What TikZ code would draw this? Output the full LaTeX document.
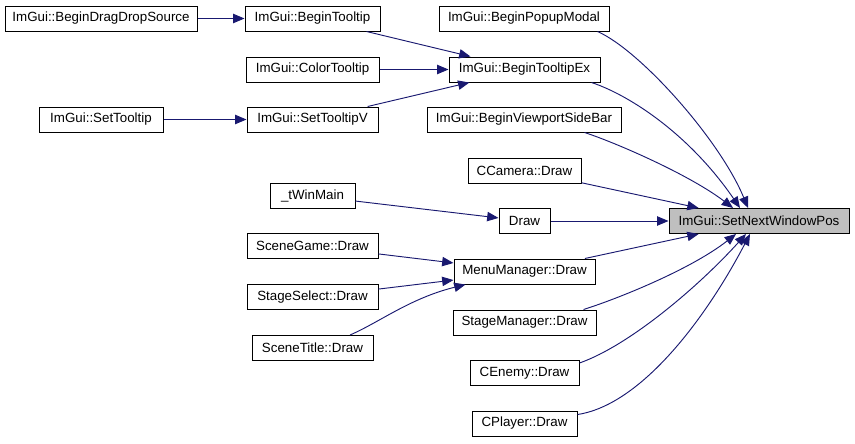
\documentclass[tikz,border=0pt]{standalone}
\usepackage{fontspec}
\setmainfont{Liberation Sans}
\usetikzlibrary{calc}
\usetikzlibrary{arrows.meta}

\definecolor{edgeblue}{RGB}{25,25,112}
\definecolor{focusgray}{RGB}{191,191,191}

\begin{document}
\begin{tikzpicture} [x=.75pt, y=-.75pt,
  fnbox/.style={draw=black, line width=.75pt, fill=white, minimum height=18.75pt, inner sep=0pt, font=\fontsize{10}{12}\selectfont},
  callarrow/.style={draw=edgeblue, line width=.7pt, -{Triangle[length=8.5pt,width=7pt,fill=edgeblue]}}]
\useasboundingbox (0,0) rectangle (855,443);
\node[fnbox, fill=focusgray, minimum width=180*.75pt] (setpos) at (759,221) {ImGui::SetNextWindowPos};
\foreach \n/\x/\y/\w/\txt in {
  popup/524/18.5/170/ImGui::BeginPopupModal,
  tooltipex/524.5/69.5/151/ImGui::BeginTooltipEx,
  side/524/119.5/194/ImGui::BeginViewportSideBar,
  camera/524.5/170.5/113/CCamera::Draw,
  draw/524.5/221/51/Draw,
  menu/524.5/271.5/141/MenuManager::Draw,
  stagemgr/524.5/322.5/143/StageManager::Draw,
  enemy/524.5/373/109/CEnemy::Draw,
  player/524.5/423.5/105/CPlayer::Draw,
  tooltip/312.5/18.5/135/ImGui::BeginTooltip,
  colortip/312.5/69.5/133/ImGui::ColorTooltip,
  tipv/312.5/119.5/131/ImGui::SetTooltipV,
  winmain/312.5/196/85/\_tWinMain,
  scenegame/312.5/246/131/SceneGame::Draw,
  stagesel/312.5/297/131/StageSelect::Draw,
  title/312.5/348/121/SceneTitle::Draw,
  dragsrc/101/18.5/192/ImGui::BeginDragDropSource,
  settip/101/119.5/124/ImGui::SetTooltip} {
 \node[fnbox, minimum width=\w*.75pt] (\n) at (\x,\y) {\txt};
}
% straight calls
\foreach \a/\b in {dragsrc/tooltip, tooltip/tooltipex, colortip/tooltipex, tipv/tooltipex, settip/tipv,
  camera/setpos, winmain/draw, draw/setpos, menu/setpos, scenegame/menu, stagesel/menu} {
 \draw[callarrow] (\a) -- (\b);
}
% curved calls
\draw[callarrow] ($(popup.south east)+(-12,0)$) .. controls +(43,19) and +(-28,-68) .. ($(setpos.north)+(-11,0)$);
\draw[callarrow] ($(tooltipex.south east)+(-9,0)$) .. controls +(39,13) and +(-50,-73) .. ($(setpos.north)+(-19,0)$);
\draw[callarrow] ($(side.south east)+(-37,0)$) .. controls +(31,10) and +(-43,-33) .. ($(setpos.north)+(-26,0)$);
\draw[callarrow] ($(stagemgr.north east)+(-13,0)$) .. controls +(32,-10) and +(-46,36) .. ($(setpos.south)+(-23,0)$);
\draw[callarrow] ($(enemy.east)+(0,-10)$) .. controls +(51,-18) and +(-46,51) .. ($(setpos.south)+(-13,0)$);
\draw[callarrow] ($(player.east)+(0,-9)$) .. controls +(63,-9.5) and +(-45,86) .. ($(setpos.south)+(-9,0)$);
\draw[callarrow] ($(title.north)+(37.5,0)$) .. controls +(30,-13) and +(-56,14) .. ($(menu.south west)+(12,0)$);
\end{tikzpicture}
\end{document}
